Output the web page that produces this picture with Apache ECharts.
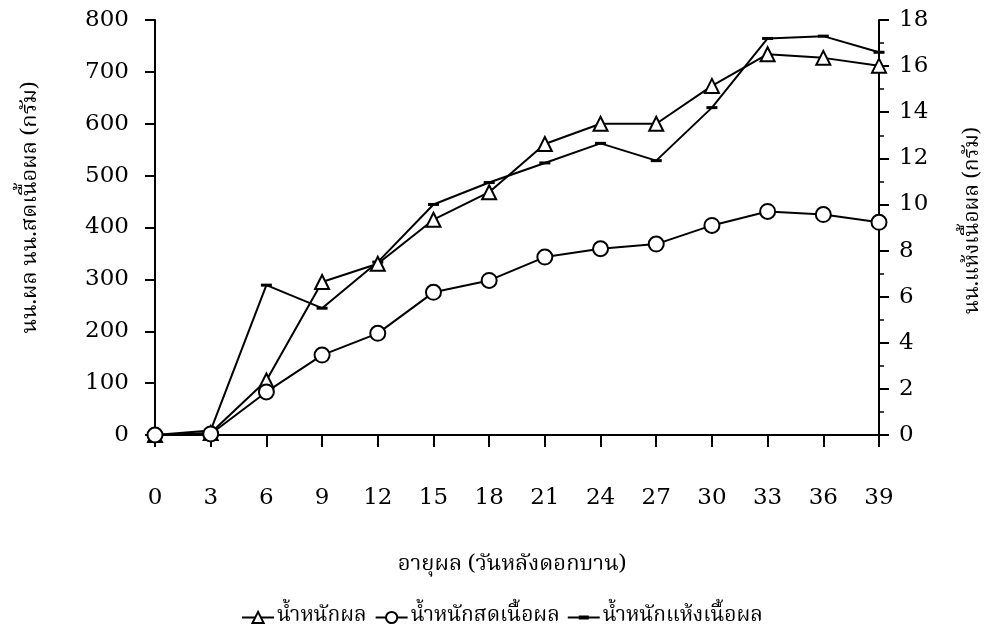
<!DOCTYPE html>
<html>
<head>
<meta charset="utf-8">
<script src="https://cdn.jsdelivr.net/npm/echarts@6/dist/echarts.min.js"></script>
<style>
  html, body { margin: 0; padding: 0; background: #fff; }
  #chart { width: 1004px; height: 639px; }
</style>
</head>
<body>
<div id="chart"></div>
<script>
// Fruit age (days after anthesis)
const days = ['0', '3', '6', '9', '12', '15', '18', '21', '24', '27', '30', '33', '36', '39'];

// Fruit weight (g) – left axis
const fruitWeight = [0, 4, 105, 295, 330, 415, 468, 561, 600, 600, 673, 734, 727, 712];
// Fresh pulp weight (g) – left axis
const freshPulp = [0, 2, 83, 154, 196, 275, 298, 343, 359, 368, 404, 431, 425, 410];
// Dry pulp weight (g) – right axis
const dryPulp = [0, 0.2, 6.5, 5.5, 7.5, 10.0, 10.95, 11.8, 12.65, 11.9, 14.2, 17.2, 17.3, 16.6];

const seriesNames = ['น้ำหนักผล', 'น้ำหนักสดเนื้อผล', 'น้ำหนักแห้งเนื้อผล'];

const numFont = '"DejaVu Serif", "Liberation Serif", serif';
const thaiFont = '"Noto Serif Thai", "Loma", "Garuda", "Norasi", "Noto Sans Thai", sans-serif';
const ink = '#000';

// legend glyph for the dry-weight line: a plain line with a short thick dash
const dashLineIcon = 'path://M0,0L0.01,0L0.01,0.01Z M0,6L32,6L32,8L0,8Z M11,5L21,5L21,9L11,9Z M0,14L0.01,14L0.01,13.99Z';

const chart = echarts.init(document.getElementById('chart'), null, { renderer: 'canvas' });

const yCommon = {
  type: 'value',
  nameLocation: 'middle',
  nameRotate: 90,
  axisLine: { show: true, lineStyle: { color: ink, width: 2 } },
  axisTick: { show: true, length: 10, lineStyle: { color: ink, width: 2 } },
  splitLine: { show: false },
  axisLabel: { fontFamily: numFont, fontSize: 23, color: ink }
};

chart.setOption({
  animation: false,
  backgroundColor: '#fff',
  grid: { left: 155, right: 125, top: 20, bottom: 204, containLabel: false },
  legend: {
    bottom: 6,
    left: 'center',
    itemWidth: 32,
    itemHeight: 14,
    itemGap: 8,
    data: [
      { name: seriesNames[0] },
      { name: seriesNames[1] },
      { name: seriesNames[2], icon: dashLineIcon }
    ],
    textStyle: { fontFamily: thaiFont, fontSize: 21, color: ink, padding: [0, 0, 0, -2] }
  },
  xAxis: {
    type: 'category',
    data: days,
    boundaryGap: false,
    name: 'อายุผล (วันหลังดอกบาน)',
    nameLocation: 'middle',
    nameGap: 120,
    nameTextStyle: { fontFamily: thaiFont, fontSize: 22, color: ink, padding: [0, 10, 0, 0] },
    axisLine: { lineStyle: { color: ink, width: 2 } },
    axisTick: { show: true, length: 12, alignWithLabel: true, lineStyle: { color: ink, width: 2 } },
    axisLabel: { fontFamily: numFont, fontSize: 23, color: ink, margin: 52 }
  },
  yAxis: [
    Object.assign({}, yCommon, {
      name: 'นน.ผล นน.สดเนื้อผล (กรัม)',
      nameGap: 112,
      nameTextStyle: { fontFamily: thaiFont, fontSize: 22, color: ink, padding: [0, 0, 0, 40] },
      min: 0, max: 800, interval: 100,
      position: 'left',
      axisLabel: Object.assign({}, yCommon.axisLabel, { margin: 26 })
    }),
    Object.assign({}, yCommon, {
      name: 'นน.แห้งเนื้อผล (กรัม)',
      nameGap: 85,
      nameTextStyle: { fontFamily: thaiFont, fontSize: 21, color: ink, padding: [0, 0, 0, 14] },
      min: 0, max: 18, interval: 2,
      position: 'right',
      minorTick: { show: true, splitNumber: 2, length: 5, lineStyle: { color: ink, width: 1.5 } },
      axisLabel: Object.assign({}, yCommon.axisLabel, { margin: 20 })
    })
  ],
  series: [
    {
      name: seriesNames[0],
      type: 'line',
      yAxisIndex: 0,
      data: fruitWeight,
      symbol: 'triangle',
      symbolSize: 14,
      z: 4,
      lineStyle: { color: ink, width: 2 },
      itemStyle: { color: '#fff', borderColor: ink, borderWidth: 2 }
    },
    {
      name: seriesNames[1],
      type: 'line',
      yAxisIndex: 0,
      data: freshPulp,
      symbol: 'circle',
      symbolSize: 15,
      z: 4,
      lineStyle: { color: ink, width: 2 },
      itemStyle: { color: '#fff', borderColor: ink, borderWidth: 2 }
    },
    {
      name: seriesNames[2],
      type: 'line',
      yAxisIndex: 1,
      data: dryPulp,
      symbol: 'rect',
      symbolSize: [11, 3],
      z: 3,
      lineStyle: { color: ink, width: 2 },
      itemStyle: { color: ink, borderColor: ink, borderWidth: 0 }
    }
  ]
});
</script>
</body>
</html>
